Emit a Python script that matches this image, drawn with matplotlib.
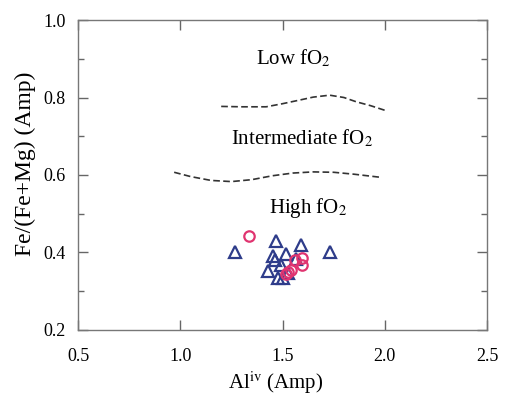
import matplotlib
matplotlib.use("Agg")
import matplotlib.pyplot as plt
from matplotlib.ticker import MultipleLocator, FormatStrFormatter

plt.rcParams['font.family'] = ['Liberation Serif', 'DejaVu Serif']
plt.rcParams['mathtext.fontset'] = 'stix'

# Data
tri_x = [1.269, 1.466, 1.591, 1.734, 1.518, 1.453, 1.464, 1.428, 1.490, 1.477, 1.526, 1.567, 1.500]
tri_y = [0.400, 0.430, 0.419, 0.400, 0.395, 0.391, 0.380, 0.352, 0.367, 0.333, 0.346, 0.382, 0.335]
circ_x = [1.336, 1.596, 1.596, 1.562, 1.542, 1.526, 1.518]
circ_y = [0.443, 0.386, 0.367, 0.380, 0.356, 0.349, 0.344]

upper_x = [1.20, 1.30, 1.42, 1.50, 1.58, 1.65, 1.73, 1.80, 1.86, 1.93, 2.00]
upper_y = [0.777, 0.776, 0.776, 0.784, 0.793, 0.801, 0.806, 0.800, 0.789, 0.779, 0.767]
lower_x = [0.97, 1.05, 1.15, 1.25, 1.35, 1.45, 1.55, 1.65, 1.75, 1.85, 1.98]
lower_y = [0.607, 0.596, 0.586, 0.583, 0.588, 0.598, 0.605, 0.608, 0.607, 0.602, 0.594]

labels = ["Low fO$_2$", "Intermediate fO$_2$", "High fO$_2$"]
label_x = [1.554, 1.593, 1.627]
label_y = [0.901, 0.695, 0.514]

fig = plt.figure(figsize=(5.05, 3.97), dpi=100)
ax = fig.add_axes([0.1545, 0.1688, 0.81, 0.7808])

ax.plot(upper_x, upper_y, ls=(0, (4, 2)), color='#333333', lw=1.2)
ax.plot(lower_x, lower_y, ls=(0, (4, 2)), color='#333333', lw=1.2)

ax.plot(tri_x, tri_y, ls='none', marker='^', markersize=8, markerfacecolor='none',
        markeredgecolor='#2e3c8a', markeredgewidth=1.6)
ax.plot(circ_x, circ_y, ls='none', marker='o', markersize=7.5, markerfacecolor='none',
        markeredgecolor='#e03470', markeredgewidth=1.6)

for t, x, y in zip(labels, label_x, label_y):
    ax.text(x, y, t, ha='center', va='center', fontsize=15)

ax.set_xlim(0.5, 2.5)
ax.set_ylim(0.2, 1.0)
ax.xaxis.set_major_locator(MultipleLocator(0.5))
ax.yaxis.set_major_locator(MultipleLocator(0.2))
ax.yaxis.set_minor_locator(MultipleLocator(0.1))
ax.xaxis.set_major_formatter(FormatStrFormatter('%.1f'))
ax.yaxis.set_major_formatter(FormatStrFormatter('%.1f'))

ax.tick_params(which='both', direction='in', top=True, right=True, color='#666666',
               labelsize=13, width=1)
ax.tick_params(which='major', length=7)
ax.tick_params(axis='x', which='major', pad=13)
ax.tick_params(axis='y', which='major', pad=9)
ax.tick_params(which='minor', length=4)
for s in ax.spines.values():
    s.set_color('#777777')
    s.set_linewidth(1.0)

ax.set_xlabel("Al$^{\\rm iv}$ (Amp)", fontsize=15)
ax.set_ylabel("Fe/(Fe+Mg) (Amp)", fontsize=17)
ax.xaxis.set_label_coords(0.484, -0.128)
ax.yaxis.set_label_coords(-0.103, 0.535)

fig.savefig("out.png", dpi=100)
